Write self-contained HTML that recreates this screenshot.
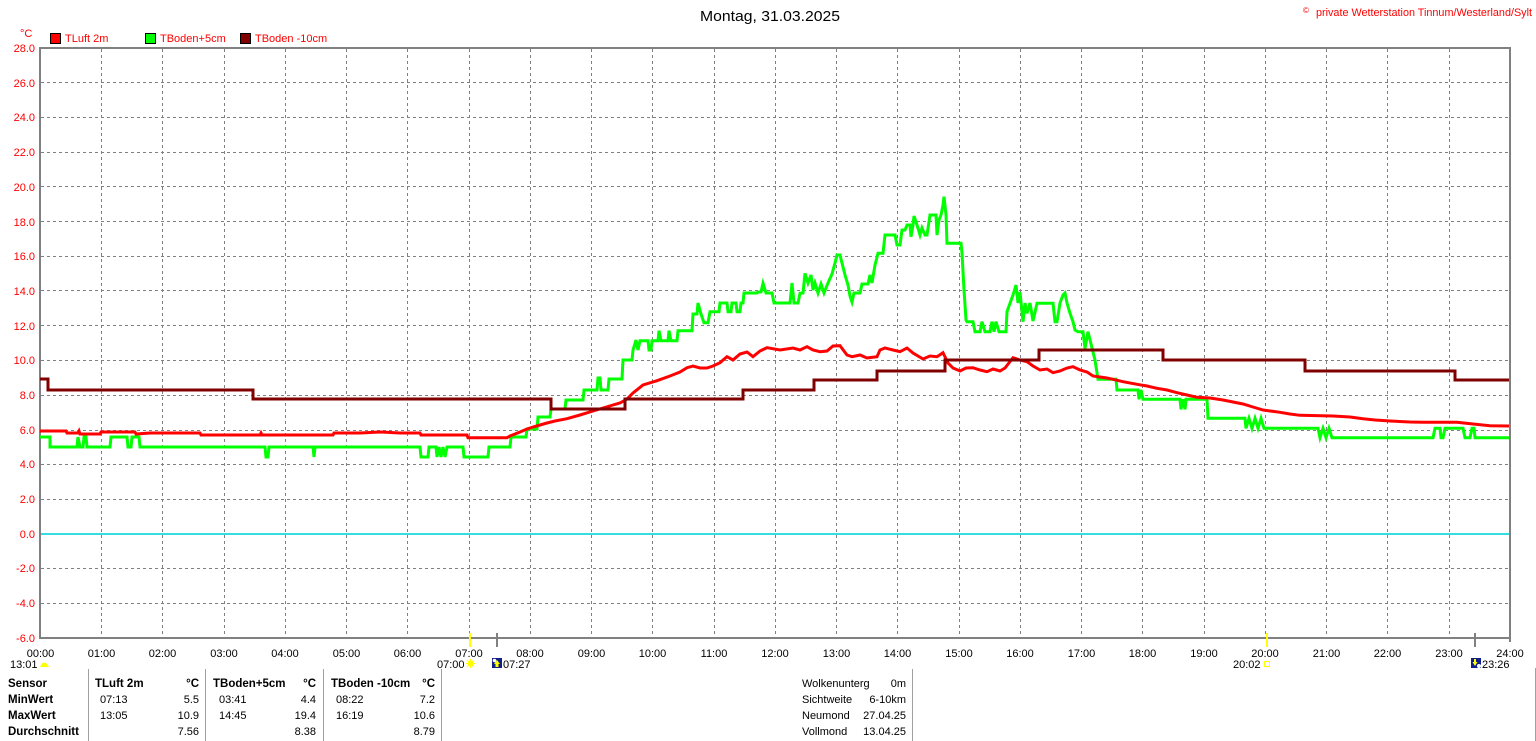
<!DOCTYPE html>
<html><head><meta charset="utf-8"><style>
html,body{margin:0;padding:0;background:#fff;}
svg{display:block;}
text{font-family:"Liberation Sans",Arial,sans-serif;}
</style></head><body>
<svg width="1536" height="741" viewBox="0 0 1536 741" xmlns="http://www.w3.org/2000/svg">
<rect x="0" y="0" width="1536" height="741" fill="#fff"/>
<!-- title -->
<text x="700" y="21" font-size="15" fill="#000" textLength="140" lengthAdjust="spacingAndGlyphs">Montag, 31.03.2025</text>
<text x="1303" y="13" font-size="8" fill="#f00">©</text>
<text x="1316" y="16" font-size="11" fill="#f00" textLength="216" lengthAdjust="spacingAndGlyphs">private Wetterstation Tinnum/Westerland/Sylt</text>
<!-- unit + legend -->
<text x="20" y="37" font-size="11" fill="#f00">°C</text>
<rect x="50.5" y="33.5" width="10" height="10" fill="#f00" stroke="#000"/>
<text x="65" y="42" font-size="11" fill="#f00">TLuft 2m</text>
<rect x="145.5" y="33.5" width="10" height="10" fill="#0f0" stroke="#000"/>
<text x="160" y="42" font-size="11" fill="#f00">TBoden+5cm</text>
<rect x="240.5" y="33.5" width="10" height="10" fill="#800000" stroke="#000"/>
<text x="255" y="42" font-size="11" fill="#f00">TBoden -10cm</text>

<!-- grid -->
<g stroke="#808080" stroke-width="1" stroke-dasharray="3,3" shape-rendering="crispEdges">
<line x1="41" y1="82.5" x2="1509" y2="82.5"/>
<line x1="41" y1="117.5" x2="1509" y2="117.5"/>
<line x1="41" y1="152.5" x2="1509" y2="152.5"/>
<line x1="41" y1="186.5" x2="1509" y2="186.5"/>
<line x1="41" y1="221.5" x2="1509" y2="221.5"/>
<line x1="41" y1="256.5" x2="1509" y2="256.5"/>
<line x1="41" y1="290.5" x2="1509" y2="290.5"/>
<line x1="41" y1="325.5" x2="1509" y2="325.5"/>
<line x1="41" y1="360.5" x2="1509" y2="360.5"/>
<line x1="41" y1="395.5" x2="1509" y2="395.5"/>
<line x1="41" y1="430.5" x2="1509" y2="430.5"/>
<line x1="41" y1="464.5" x2="1509" y2="464.5"/>
<line x1="41" y1="499.5" x2="1509" y2="499.5"/>
<line x1="41" y1="568.5" x2="1509" y2="568.5"/>
<line x1="41" y1="603.5" x2="1509" y2="603.5"/>
<line x1="101.5" y1="49" x2="101.5" y2="637"/>
<line x1="162.5" y1="49" x2="162.5" y2="637"/>
<line x1="224.5" y1="49" x2="224.5" y2="637"/>
<line x1="285.5" y1="49" x2="285.5" y2="637"/>
<line x1="346.5" y1="49" x2="346.5" y2="637"/>
<line x1="407.5" y1="49" x2="407.5" y2="637"/>
<line x1="469.5" y1="49" x2="469.5" y2="637"/>
<line x1="530.5" y1="49" x2="530.5" y2="637"/>
<line x1="591.5" y1="49" x2="591.5" y2="637"/>
<line x1="652.5" y1="49" x2="652.5" y2="637"/>
<line x1="714.5" y1="49" x2="714.5" y2="637"/>
<line x1="775.5" y1="49" x2="775.5" y2="637"/>
<line x1="836.5" y1="49" x2="836.5" y2="637"/>
<line x1="897.5" y1="49" x2="897.5" y2="637"/>
<line x1="959.5" y1="49" x2="959.5" y2="637"/>
<line x1="1020.5" y1="49" x2="1020.5" y2="637"/>
<line x1="1081.5" y1="49" x2="1081.5" y2="637"/>
<line x1="1142.5" y1="49" x2="1142.5" y2="637"/>
<line x1="1204.5" y1="49" x2="1204.5" y2="637"/>
<line x1="1265.5" y1="49" x2="1265.5" y2="637"/>
<line x1="1326.5" y1="49" x2="1326.5" y2="637"/>
<line x1="1387.5" y1="49" x2="1387.5" y2="637"/>
<line x1="1449.5" y1="49" x2="1449.5" y2="637"/>
</g>
<!-- zero line -->
<line x1="41" y1="534" x2="1509" y2="534" stroke="#33dde0" stroke-width="2" shape-rendering="crispEdges"/>

<!-- frame -->
<g stroke="#808080" stroke-width="2" fill="none" shape-rendering="crispEdges">
<line x1="40" y1="48" x2="1511" y2="48"/>
<line x1="1510" y1="47" x2="1510" y2="642"/>
<line x1="40" y1="47" x2="40" y2="639"/>
<line x1="39" y1="638" x2="1511" y2="638"/>
</g>

<!-- Y labels -->
<g font-size="11" fill="#f00" text-anchor="end">
<text x="35" y="52">28.0</text>
<text x="35" y="87">26.0</text>
<text x="35" y="121">24.0</text>
<text x="35" y="156">22.0</text>
<text x="35" y="191">20.0</text>
<text x="35" y="226">18.0</text>
<text x="35" y="260">16.0</text>
<text x="35" y="295">14.0</text>
<text x="35" y="330">12.0</text>
<text x="35" y="364">10.0</text>
<text x="35" y="399">8.0</text>
<text x="35" y="434">6.0</text>
<text x="35" y="468">4.0</text>
<text x="35" y="503">2.0</text>
<text x="35" y="538">0.0</text>
<text x="35" y="572">-2.0</text>
<text x="35" y="607">-4.0</text>
<text x="35" y="642">-6.0</text>
</g>

<!-- X labels -->
<g font-size="11" fill="#000" text-anchor="middle">
<text x="40.5" y="657">00:00</text>
<text x="101.5" y="657">01:00</text>
<text x="162.5" y="657">02:00</text>
<text x="224" y="657">03:00</text>
<text x="285" y="657">04:00</text>
<text x="346.5" y="657">05:00</text>
<text x="407.5" y="657">06:00</text>
<text x="469" y="657">07:00</text>
<text x="530" y="657">08:00</text>
<text x="591.5" y="657">09:00</text>
<text x="652.5" y="657">10:00</text>
<text x="714" y="657">11:00</text>
<text x="775" y="657">12:00</text>
<text x="836.5" y="657">13:00</text>
<text x="897.5" y="657">14:00</text>
<text x="959" y="657">15:00</text>
<text x="1020" y="657">16:00</text>
<text x="1081.5" y="657">17:00</text>
<text x="1142.5" y="657">18:00</text>
<text x="1204" y="657">19:00</text>
<text x="1265" y="657">20:00</text>
<text x="1326.5" y="657">21:00</text>
<text x="1387.5" y="657">22:00</text>
<text x="1449" y="657">23:00</text>
<text x="1510" y="657">24:00</text>
</g>

<!-- sun/moon ticks -->
<rect x="469" y="633" width="2" height="14" fill="#ff0"/>
<rect x="1266" y="633" width="2" height="14" fill="#ff0"/>
<rect x="496" y="633" width="2" height="14" fill="#808080"/>
<rect x="1474" y="633" width="2" height="14" fill="#808080"/>

<!-- second row -->
<g font-size="11" fill="#000">
<text x="10" y="668">13:01</text>
<text x="437" y="668">07:00</text>
<text x="503" y="668">07:27</text>
<text x="1233" y="668">20:02</text>
<text x="1482" y="668">23:26</text>
</g>
<path d="M40,667 Q44,658 49,667 Z" fill="#ff0"/>
<circle cx="470.5" cy="663.5" r="3" fill="#ff0"/>
<g stroke="#ff0" stroke-width="1"><line x1="466" y1="663.5" x2="475" y2="663.5"/><line x1="470.5" y1="659" x2="470.5" y2="668"/><line x1="467" y1="660" x2="474" y2="667"/><line x1="474" y1="660" x2="467" y2="667"/></g>
<rect x="492" y="658" width="10" height="10" fill="#10208a"/>
<circle cx="494.5" cy="660.5" r="1.8" fill="#fff"/>
<path d="M497,660 L500,664 L498.5,664 L498.5,667 L495.5,667 L495.5,664 L494,664 Z" fill="#ff0"/>
<rect x="1264.5" y="661.5" width="5" height="5" fill="none" stroke="#ff0"/>
<rect x="1471" y="658" width="10" height="10" fill="#10208a"/>
<path d="M1474,659 L1476,659 L1476,662 L1477.5,662 L1475,666 L1472.5,662 L1474,662 Z" fill="#ff0"/>
<circle cx="1479" cy="666" r="2" fill="#fff"/>

<!-- table separators -->
<g stroke="#a0a0a0" stroke-width="1" shape-rendering="crispEdges">
<line x1="88.5" y1="669" x2="88.5" y2="741"/>
<line x1="205.5" y1="669" x2="205.5" y2="741"/>
<line x1="323.5" y1="669" x2="323.5" y2="741"/>
<line x1="441.5" y1="669" x2="441.5" y2="741"/>
<line x1="912.5" y1="669" x2="912.5" y2="741"/>
<line x1="1535.5" y1="668" x2="1535.5" y2="741"/>
</g>

<!-- table -->
<g font-size="11.5" fill="#000" font-weight="bold">
<text x="8" y="687">Sensor</text>
<text x="8" y="703">MinWert</text>
<text x="8" y="719">MaxWert</text>
<text x="8" y="735">Durchschnitt</text>
<text x="95" y="687">TLuft 2m</text>
<text x="213" y="687">TBoden+5cm</text>
<text x="331" y="687">TBoden -10cm</text>
<g text-anchor="end"><text x="199" y="687">°C</text><text x="316" y="687">°C</text><text x="435" y="687">°C</text></g>
</g>
<g font-size="11" fill="#000">
<text x="100" y="703">07:13</text>
<text x="100" y="719">13:05</text>
<text x="219" y="703">03:41</text>
<text x="219" y="719">14:45</text>
<text x="336" y="703">08:22</text>
<text x="336" y="719">16:19</text>
<g text-anchor="end">
<text x="199" y="703">5.5</text><text x="199" y="719">10.9</text><text x="199" y="735">7.56</text>
<text x="316" y="703">4.4</text><text x="316" y="719">19.4</text><text x="316" y="735">8.38</text>
<text x="435" y="703">7.2</text><text x="435" y="719">10.6</text><text x="435" y="735">8.79</text>
<text x="906" y="687">0m</text><text x="906" y="703">6-10km</text><text x="906" y="719">27.04.25</text><text x="906" y="735">13.04.25</text>
</g>
<text x="802" y="687">Wolkenunterg</text>
<text x="802" y="703">Sichtweite</text>
<text x="802" y="719">Neumond</text>
<text x="802" y="735">Vollmond</text>
</g>

<!-- series -->
<g fill="none" stroke-width="3" stroke-linejoin="miter">
<polyline stroke="#00ff00" points="40,437 50,437 50,447 77,447 78,437 80,447 83,447 84,437 86,437 87,447 110,447 111,437 127,437 128,447 131,447 132,437 139,437 140,447 265,447 266,457 268,457 269,447 313,447 314,457 315,447 420,447 421,457 428,457 429,447 436,447 437,457 439,447 441,457 443,447 445,457 447,447 463,447 464,457 488,457 489,447 510,447 511,437 526,437 527,429 537,429 538,417 550,417 551,409 565,409 566,400 583,400 584,390 597,390 598,378 600,378 601,390 608,390 609,379 622,379 623,360 632,360 633,350 636,340 638,350 640,340.7 648,340.7 649,350 651,350 652,340.7 658,340.7 659,330.7 661,340.7 668,340.7 669,330.7 671,340.7 677,340.7 678,330.7 692,330.7 693,314 697,314 698,303 701,314 704,322.7 708,322.7 710,311.7 719,311.7 720,303 727,303 728,311.7 731,311.7 732,303 736,303 737,311.7 740,311.7 741,303 743,303 744,293 757,293 758,292 761,292 763,283.3 766,293 772,293 774,303 790,303 792,283 794,303 798,303 800,293.3 803,293 805,273.3 808,283 811,275 813,290 815,283 818,293 821,284 824,293 828,283 832,274 835,263 837,255 840,255 842,263 845,275 848,285 850,296 852,302 854,293 860,293 862,284 868,284 870,275 872,283 875,265 878,253.3 883,253.3 885,235 895,235 897,245 900,245 902,230 905,230 907,225 910,225 911,236.7 913,225 914,216 917,225 920,235 922,228 925,235 927,235 930,215 936,215 937,235 939,220 941,215 943,205 944,196.7 946,215 947,243.3 961,243.3 962,253 964,290 966,320 967,321.7 973,321.7 975,331.7 980,331.7 982,321.7 985,331.7 990,331.7 992,321.7 994,331.7 996,321.7 999,331.7 1006,331.7 1007,311.7 1010,303.3 1013,295 1016,285 1018,303 1020,292 1023,321.7 1025,303 1027,313.3 1030,303 1033,321 1037,303.3 1053,303.3 1055,321.7 1057,321.7 1060,303 1063,295 1065,293 1067,303 1070,313.3 1073,321.7 1075,330 1078,331.7 1083,331.7 1085,348.3 1088,331.7 1092,348 1095,360 1098,379.3 1116,379.3 1117,390 1138,390 1139,399.3 1141,390 1143,399.3 1180,399.3 1181,409.3 1183,399.3 1185,409.3 1186,399.3 1207,399.3 1208,418.3 1245,418.3 1246,428.3 1249,418.3 1252,428.3 1255,418.3 1258,428.3 1261,418.3 1264,428.3 1318,428.3 1320,437.7 1323,428.3 1326,437.7 1329,428.3 1332,437.7 1433,437.7 1435,428.3 1440,428.3 1441,437.7 1443,437.7 1445,428.3 1463,428.3 1465,437.7 1470,437.7 1472,428.3 1474,428.3 1475,437.7 1509,437.7"/>
<polyline stroke="#ff0000" points="40,431 66,431 67,433 78,433 79,431 80,434 100,434 101,432 135,432 136,434 150,433 200,433 201,435 260,435 261,433 262,435 333,435 334,433 360,433 380,432 400,433 420,433 421,435 467,435 468,437.7 507,437.7 510,436 515,434 520,432 527,429 533,427 540,425 547,423 555,421 567,418.7 580,415 593,411 603,408 613,405 620,403 627,399 633,393 643,385 657,380.7 670,376 680,372 687,367.7 693,366 700,368 707,368 713,366 720,362.7 727,356.7 733,360 740,354 747,352 753,356.7 760,351 767,347.7 780,350 793,348 800,350 807,346.7 813,350 820,351.7 827,351 833,346 840,345.7 847,355 852,356.7 860,355 867,358 877,356.7 880,350 885,348 893,350 900,351.7 907,348 913,353 923,359 930,356 937,356.7 943,352.7 948,363 953,368 960,371 966,368 973,367.7 980,370 987,371.7 993,369 1000,371 1005,368 1013,357.7 1020,360 1027,361.7 1033,366 1040,370 1047,369 1053,372.7 1060,371 1067,368 1073,366.7 1080,370 1087,372 1093,376 1100,377 1107,378 1113,379.3 1123,381.7 1137,384.3 1147,386 1157,388.3 1167,390 1177,392.7 1187,395 1197,397.3 1210,398 1223,400 1233,402 1243,404 1253,407 1263,410 1280,412.3 1290,414 1300,415.3 1333,416 1350,417 1363,418.7 1375,420 1390,421 1410,422 1423,422.3 1457,422.3 1473,424 1490,425.7 1509,426"/>
<polyline stroke="#800000" points="40,379 48,379 48,390 253,390 253,399 551,399 551,409 625,409 625,399 743,399 743,390 814,390 814,380 877,380 877,371 945,371 945,360 1039,360 1039,350 1163,350 1163,360 1305,360 1305,371 1455,371 1455,380 1509,380"/>
</g>
</svg>
</body></html>
